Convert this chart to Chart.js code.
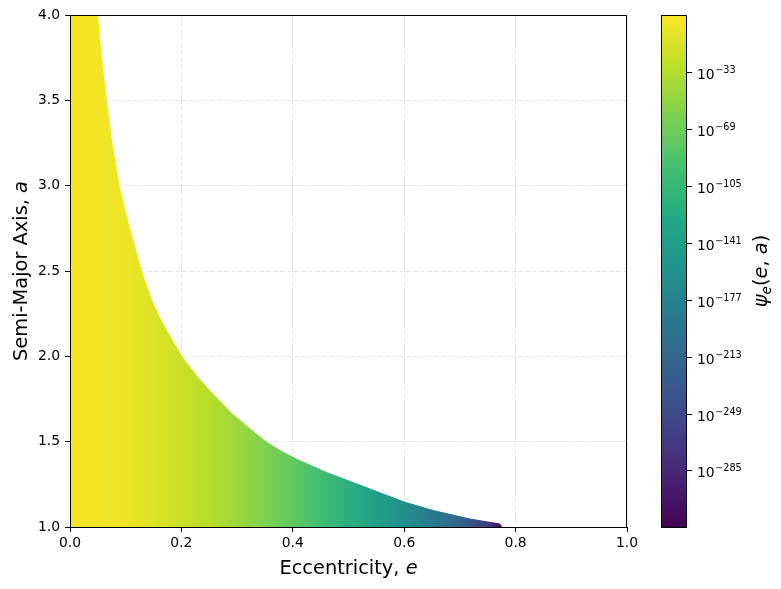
<!DOCTYPE html>
<html>
<head>
<meta charset="utf-8">
<script src="https://cdn.jsdelivr.net/npm/chart.js@4"></script>
<style>
  html, body { margin: 0; padding: 0; background: #fff; }
  #wrap { position: relative; width: 781px; height: 589px; background: #fff; }
  #main { position: absolute; left: 0; top: 0; }
  #cbar { position: absolute; left: 640px; top: 0; }
</style>
</head>
<body>
<div id="wrap">
  <canvas id="main" width="781" height="589" style="width:781px;height:589px"></canvas>
  <canvas id="cbar" width="141" height="589" style="width:141px;height:589px"></canvas>
</div>
<script>
// ---- Data ----
// Upper boundary of the filled region: max semi-major axis a for eccentricity e
const eccBoundary = [0, 0.050, 0.058, 0.066, 0.073, 0.081, 0.089, 0.102, 0.118, 0.129, 0.147, 0.162, 0.177, 0.201, 0.215, 0.233, 0.263, 0.290, 0.326, 0.353, 0.380, 0.407, 0.455, 0.527, 0.600, 0.652, 0.718, 0.772, 0.776];
const aBoundary   = [4.00, 4.00, 3.73, 3.50, 3.32, 3.15, 3.00, 2.82, 2.63, 2.50, 2.33, 2.225, 2.135, 2.00, 1.94, 1.865, 1.76, 1.67, 1.57, 1.50, 1.445, 1.40, 1.33, 1.24, 1.15, 1.10, 1.05, 1.02, 1.00];
// log10 of psi_e along eccentricity (colour of the region)
const eccColor = [0, 0.05, 0.10, 0.15, 0.20, 0.25, 0.30, 0.35, 0.40, 0.45, 0.50, 0.55, 0.60, 0.65, 0.70, 0.75, 0.776];
const logPsi   = [0, -1, -5, -12, -22, -32, -45, -60, -77, -97, -118, -138, -160, -188, -215, -262, -318];
// colour bar range (log10) and tick exponents
const cbMin = -320.5;
const cbMax = 3.6;
const cbTicks = [-33, -69, -105, -141, -177, -213, -249, -285];
// axis ticks
const xTicks = [0.0, 0.2, 0.4, 0.6, 0.8, 1.0];
const yTicks = [1.0, 1.5, 2.0, 2.5, 3.0, 3.5, 4.0];

// ---- Styling helpers ----
const VIRIDIS = ['#440154','#482475','#414487','#355f8d','#2a788e','#21918c','#22a884','#44bf70','#7ad151','#bddf26','#fde725'];
function hex2rgb(h){ return [parseInt(h.slice(1,3),16),parseInt(h.slice(3,5),16),parseInt(h.slice(5,7),16)]; }
function viridis(t){
  t = Math.max(0, Math.min(1, t));
  const p = t * (VIRIDIS.length - 1);
  const i = Math.min(VIRIDIS.length - 2, Math.floor(p));
  const f = p - i;
  const a = hex2rgb(VIRIDIS[i]), b = hex2rgb(VIRIDIS[i+1]);
  const c = a.map((v,k)=>Math.round(v + (b[k]-v)*f));
  return 'rgb(' + c.join(',') + ')';
}
const FONT = '"DejaVu Sans", sans-serif';
const GRID = 'rgba(176,176,176,0.32)';

function fontStr(s){ return (s.italic ? 'italic ' : '') + s.size + 'px ' + FONT; }
function drawRich(ctx, segs, x, y, rot){
  ctx.save();
  ctx.translate(x, y);
  ctx.rotate(rot || 0);
  let total = 0;
  segs.forEach(s => { ctx.font = fontStr(s); s.w = ctx.measureText(s.t).width; total += s.w; });
  let cx = -total / 2;
  ctx.textBaseline = 'alphabetic';
  ctx.fillStyle = '#000';
  segs.forEach(s => { ctx.font = fontStr(s); ctx.fillText(s.t, cx, s.dy || 0); cx += s.w; });
  ctx.restore();
}

function fillGradient(context){
  const chart = context.chart;
  const { ctx, chartArea, scales } = chart;
  if (!chartArea || !scales.x) return 'rgba(0,0,0,0)';
  const x0 = scales.x.getPixelForValue(eccColor[0]);
  const x1 = scales.x.getPixelForValue(eccColor[eccColor.length - 1]);
  const g = ctx.createLinearGradient(x0, 0, x1, 0);
  eccColor.forEach((e, i) => {
    const off = (scales.x.getPixelForValue(e) - x0) / (x1 - x0);
    g.addColorStop(Math.max(0, Math.min(1, off)), viridis((logPsi[i] - cbMin) / (cbMax - cbMin)));
  });
  return g;
}

const mainDecor = {
  id: 'mainDecor',
  afterDraw(chart){
    const { ctx, chartArea: ca } = chart;
    ctx.save();
    ctx.strokeStyle = '#000';
    ctx.lineWidth = 1;
    ctx.strokeRect(ca.left + 0.5, ca.top + 0.5, ca.right - ca.left - 1, ca.bottom - ca.top);
    ctx.restore();
    const S = 19.4;
    drawRich(ctx, [
      { t: 'Eccentricity, ', size: S },
      { t: 'e', size: S, italic: true }
    ], (ca.left + ca.right) / 2, 574, 0);
    drawRich(ctx, [
      { t: 'Semi-Major Axis, ', size: S },
      { t: 'a', size: S, italic: true }
    ], 27, (ca.top + ca.bottom) / 2, -Math.PI / 2);
  }
};

new Chart(document.getElementById('main'), {
  type: 'line',
  data: {
    datasets: [{
      data: eccBoundary.map((e, i) => ({ x: e, y: aBoundary[i] })),
      fill: 'start',
      borderWidth: 0,
      borderColor: 'rgba(0,0,0,0)',
      pointRadius: 0,
      tension: 0,
      backgroundColor: fillGradient
    }]
  },
  options: {
    responsive: false,
    animation: false,
    events: [],
    layout: { padding: { top: 15, right: 154, left: 0, bottom: 0 } },
    plugins: { legend: { display: false }, tooltip: { enabled: false } },
    scales: {
      x: {
        type: 'linear', min: 0, max: 1, z: 1,
        afterBuildTicks: s => { s.ticks = xTicks.map(v => ({ value: v })); },
        afterFit: s => { s.height = 62; },
        ticks: { callback: v => Number(v).toFixed(1), font: { family: FONT, size: 13.9 }, color: '#000', padding: 3, maxRotation: 0, autoSkip: false },
        grid: { color: GRID, lineWidth: 1, tickColor: '#000', tickLength: 5, tickWidth: 1 },
        border: { display: false, dash: [5, 2] }
      },
      y: {
        type: 'linear', min: 1, max: 4, z: 1,
        afterBuildTicks: s => { s.ticks = yTicks.map(v => ({ value: v })); },
        afterFit: s => { s.width = 70; },
        ticks: { callback: v => Number(v).toFixed(1), font: { family: FONT, size: 13.9 }, color: '#000', padding: 5, autoSkip: false },
        grid: { color: GRID, lineWidth: 1, tickColor: '#000', tickLength: 5, tickWidth: 1 },
        border: { display: false, dash: [5, 2] }
      }
    }
  },
  plugins: [mainDecor]
});

// ---- Colour bar ----
function cbGradient(context){
  const chart = context.chart;
  const { ctx, chartArea, scales } = chart;
  if (!chartArea || !scales.y) return 'rgba(0,0,0,0)';
  const yb = scales.y.getPixelForValue(cbMin), yt = scales.y.getPixelForValue(cbMax);
  const g = ctx.createLinearGradient(0, yb, 0, yt);
  for (let i = 0; i < VIRIDIS.length; i++) g.addColorStop(i / (VIRIDIS.length - 1), VIRIDIS[i]);
  return g;
}

const cbDecor = {
  id: 'cbDecor',
  afterDraw(chart){
    const { ctx, chartArea: ca, scales } = chart;
    ctx.save();
    ctx.strokeStyle = '#000';
    ctx.lineWidth = 1;
    ctx.strokeRect(ca.left + 0.5, ca.top + 0.5, ca.right - ca.left - 1, ca.bottom - ca.top);
    ctx.restore();
    // tick labels 10^n
    cbTicks.forEach(v => {
      const y = scales.y.getPixelForValue(v);
      ctx.save();
      ctx.fillStyle = '#000';
      ctx.textBaseline = 'alphabetic';
      const x0 = ca.right + 5 + 5;
      ctx.font = '13.9px ' + FONT;
      ctx.fillText('10', x0, y + 6.5);
      const w = ctx.measureText('10').width;
      ctx.font = '9.7px ' + FONT;
      ctx.fillText('\u2212' + Math.abs(v), x0 + w + 0.5, y + 0.5);
      ctx.restore();
    });
    const S = 19.4;
    drawRich(ctx, [
      { t: '\u03c8', size: S, italic: true },
      { t: 'e', size: 13.6, italic: true, dy: 4 },
      { t: '(', size: S },
      { t: 'e', size: S, italic: true },
      { t: ', ', size: S },
      { t: 'a', size: S, italic: true },
      { t: ')', size: S }
    ], 127, (ca.top + ca.bottom) / 2, -Math.PI / 2);
  }
};

new Chart(document.getElementById('cbar'), {
  type: 'bar',
  data: {
    labels: ['psi'],
    datasets: [{
      data: [[cbMin, cbMax]],
      backgroundColor: cbGradient,
      borderWidth: 0,
      barPercentage: 1,
      categoryPercentage: 1
    }]
  },
  options: {
    responsive: false,
    animation: false,
    events: [],
    layout: { padding: { top: 15, right: 0, left: 21, bottom: 62 } },
    plugins: { legend: { display: false }, tooltip: { enabled: false } },
    scales: {
      x: { display: false },
      y: {
        type: 'linear', position: 'right', min: cbMin, max: cbMax,
        afterBuildTicks: s => { s.ticks = cbTicks.map(v => ({ value: v })); },
        afterFit: s => { s.width = 94; },
        ticks: { display: false },
        grid: { drawOnChartArea: false, tickColor: '#000', tickLength: 5, tickWidth: 1 },
        border: { display: false }
      }
    }
  },
  plugins: [cbDecor]
});
</script>
</body>
</html>
